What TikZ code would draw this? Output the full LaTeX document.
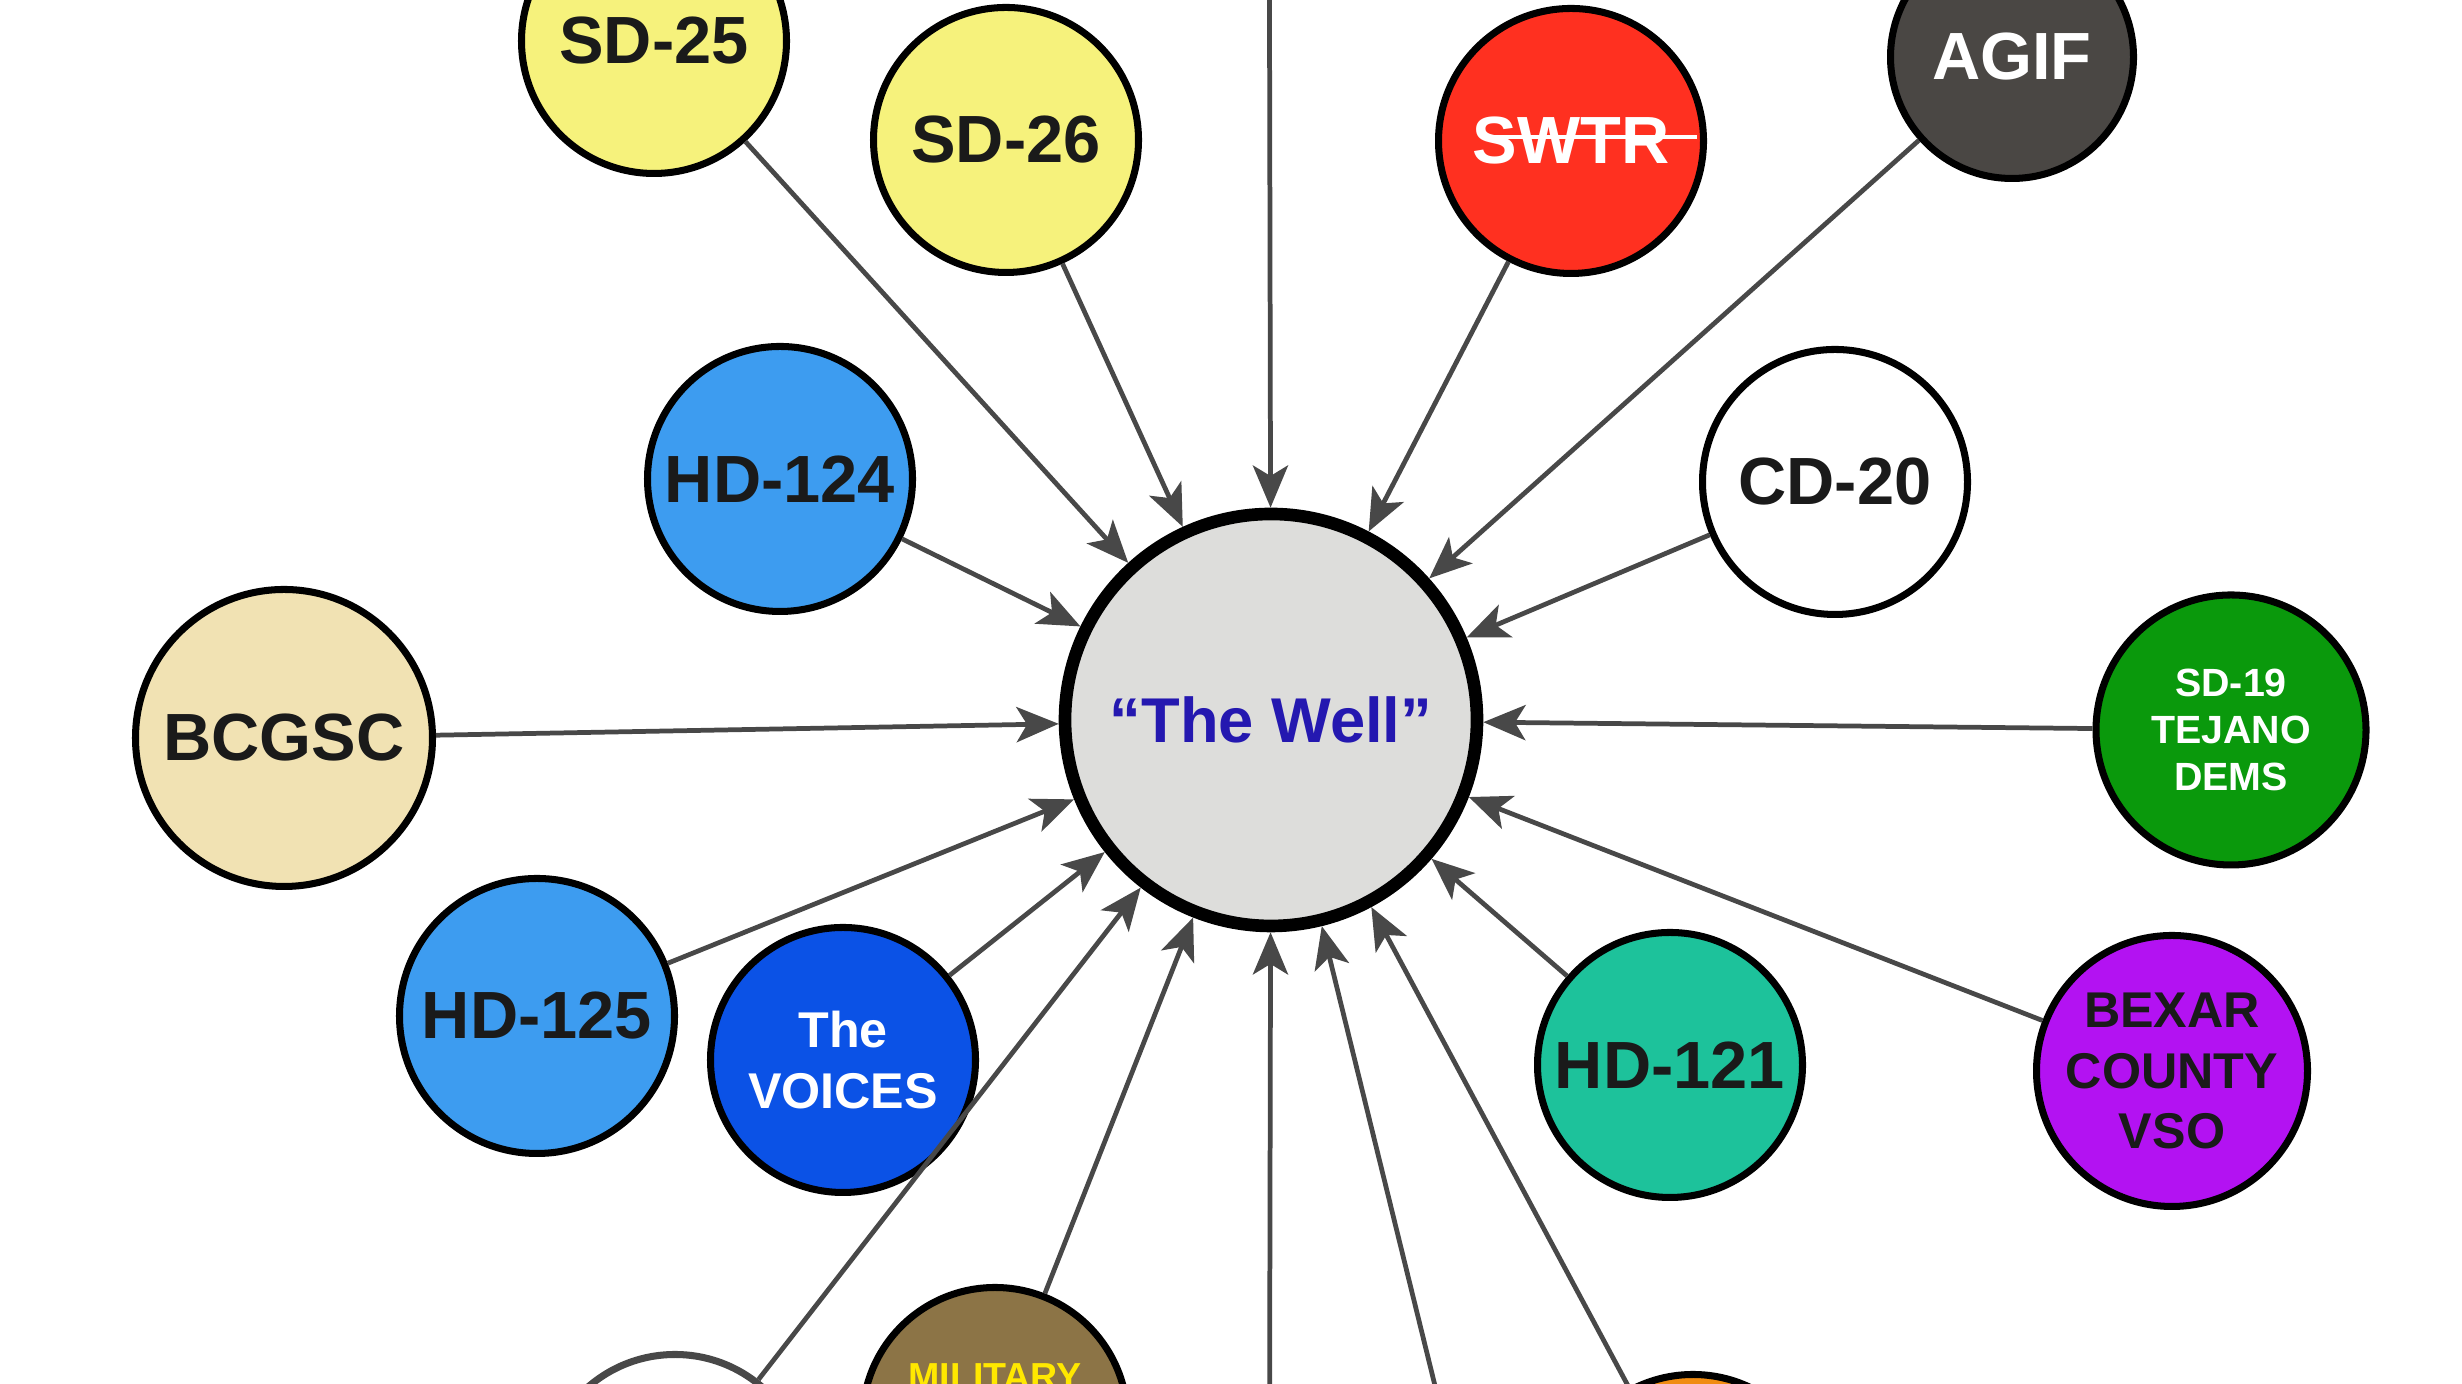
\documentclass[tikz,border=0pt]{standalone}
\usepackage{fontspec}
\setmainfont{Liberation Sans}
\usetikzlibrary{arrows.meta}

\definecolor{sdyellow}{HTML}{F6F27C}
\definecolor{swtrred}{HTML}{FF3020}
\definecolor{agifgray}{HTML}{4A4744}
\definecolor{hdblue}{HTML}{3D9CF0}
\definecolor{bctan}{HTML}{F1E2B3}
\definecolor{tejgreen}{HTML}{0A990C}
\definecolor{voiceblue}{HTML}{0B52E6}
\definecolor{hdteal}{HTML}{1DC29B}
\definecolor{vsopurple}{HTML}{B312F2}
\definecolor{wellgray}{HTML}{DDDDDB}
\definecolor{wellblue}{HTML}{2418B0}
\definecolor{milbrown}{HTML}{8C7446}
\definecolor{milyellow}{HTML}{FFE800}
\definecolor{orgorange}{HTML}{F08C12}
\definecolor{feedgray}{HTML}{484848}
\definecolor{inkblack}{HTML}{1A1A1A}

\begin{document}
\begin{tikzpicture}[
  org/.style={circle,draw=black,line width=2pt,minimum size=2.65cm,inner sep=0pt,
    align=center,text=inkblack,font=\bfseries\fontsize{19}{22}\selectfont},
  small org/.style={org,font=\bfseries\fontsize{14.3}{17.2}\selectfont},
  tiny org/.style={org,font=\bfseries\fontsize{11.2}{13.4}\selectfont},
  feed/.style={draw=feedgray,line width=1.35pt,-{Stealth[length=12pt,width=10pt,inset=3pt]}}
  ]

\clip (0,0) rectangle (24.62,13.84);
\useasboundingbox (0,0) rectangle (24.62,13.84);
\fill[white] (0,0) rectangle (24.62,13.84);

% the hub
\node[org,minimum size=4.12cm,line width=3.6pt,fill=wellgray,text=wellblue,
  font=\bfseries\fontsize{18}{22}\selectfont] (well) at (12.71,6.64) {“The Well”};

% upper ring
\node[org,fill=sdyellow] (sd25) at (6.54,13.43) {SD-25};
\node[org,fill=sdyellow] (sd26) at (10.06,12.44) {SD-26};
\node[org,fill=swtrred,text=white] (swtr) at (15.71,12.43) {SWTR};
\node[org,fill=agifgray,text=white,minimum size=2.43cm] (agif) at (20.12,13.27) {AGIF};
\node[org,fill=hdblue] (hd124) at (7.80,9.05) {HD-124};
\node[org,fill=white] (cd20) at (18.35,9.02) {CD-20};

% middle
\node[org,fill=bctan,minimum size=2.97cm] (bcgsc) at (2.84,6.46) {BCGSC};
\node[tiny org,fill=tejgreen,text=white,minimum size=2.7cm] (sd19) at (22.31,6.54) {SD-19\\TEJANO\\DEMS};

% lower ring
\node[org,fill=hdblue,minimum size=2.75cm] (hd125) at (5.37,3.68) {HD-125};
\node[small org,fill=voiceblue,text=white] (voices) at (8.43,3.24) {The\\VOICES};
\node[org,fill=hdteal] (hd121) at (16.70,3.19) {HD-121};
\node[small org,fill=vsopurple,text=inkblack,minimum size=2.71cm] (bexar) at (21.72,3.13) {BEXAR\\COUNTY\\VSO};

% cut off at the bottom edge
\node[org,fill=white,draw=feedgray] (blank) at (6.75,-1.03) {};
\node[org,fill=milbrown] (mil) at (9.95,-0.36) {};
\node[font=\bfseries\fontsize{10.7}{13}\selectfont,text=milyellow] (miltxt) at ([yshift=0.43cm]mil.center) {MILITARY};
\node[org,fill=orgorange] (orng) at (16.93,-1.23) {};

% feeds from beyond the frame
\coordinate (topin) at (12.69,16.0);
\coordinate (botin) at (12.69,-3.0);
\coordinate (botright) at (14.90,-2.25);

% struck-through SWTR
\coordinate (strikeA) at ([shift={(-0.84,0.04)}]swtr.center);
\coordinate (strikeB) at ([shift={(1.26,0.04)}]swtr.center);
\draw[white,line width=1.3pt] (strikeA) -- (strikeB);

\foreach \src in {sd25,sd26,swtr,agif,hd124,cd20,bcgsc,sd19,hd125,voices,hd121,bexar,blank,mil,orng,topin,botin,botright}
  \draw[feed] (\src) -- (well);

\end{tikzpicture}
\end{document}
